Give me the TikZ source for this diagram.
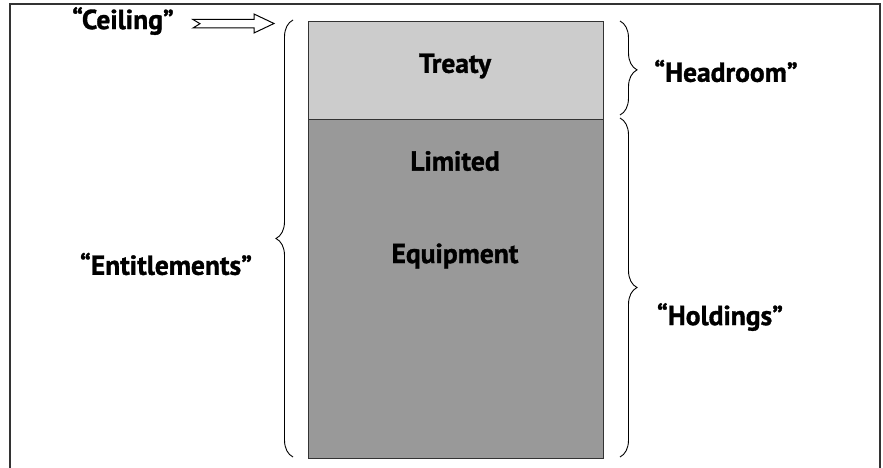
\documentclass[tikz,border=0pt]{standalone}
\usepackage{fontspec}
\setmainfont{PT Sans}[BoldFeatures={FakeBold=1.2}]
\usetikzlibrary{decorations.pathreplacing}
\definecolor{upperfill}{HTML}{CCCCCC}
\definecolor{lowerfill}{HTML}{999999}
\definecolor{edge}{HTML}{333333}
\begin{document}
\begin{tikzpicture}[x=1pt,y=-1pt,
  lbl/.style={font=\bfseries\fontsize{27.5}{32}\selectfont, inner sep=0pt},
  bracepath/.style={draw=black, line width=0.9pt, decorate,
    decoration={brace, amplitude=17pt}},
  block/.style={draw=edge, line width=0.9pt}]
\useasboundingbox (0,0) rectangle (883,468);
% outer frame, open at the bottom
\draw[edge, line width=1.3pt] (10,470) -- (10,4) -- (880,4) -- (880,470);

% stacked bar
\path[block, fill=lowerfill] (308,119) rectangle (603,458);
\path[block, fill=upperfill] (308,21) rectangle (603,119);

\node[lbl] (treaty) at (455,66) {Treaty};
\node[lbl] (limited) at (455,161) {Limited};
\node[lbl] (equip) at (455,256) {Equipment};

% braces
\coordinate (entTop) at (293,20);
\coordinate (entBot) at (293,457);
\draw[bracepath] (entBot) -- (entTop);
\coordinate (headTop) at (620,21);
\coordinate (headBot) at (620,115);
\draw[bracepath, decoration={aspect=0.52}] (headTop) -- (headBot);
\coordinate (holdTop) at (620,118);
\coordinate (holdBot) at (620,457);
\draw[bracepath] (holdTop) -- (holdBot);

\node[lbl] (ent) at (166,264) {“Entitlements”};
\node[lbl] (head) at (726,71) {“Headroom”};
\node[lbl] (hold) at (720,317) {“Holdings”};
\node[lbl] (ceil) at (123,21) {“Ceiling”};

% hollow block arrow pointing at the top of the bar
\draw[line width=1pt, fill=white, line join=miter]
  (193,19.5) -- (254,19.5) -- (254,14) -- (274,23.5) -- (254,33)
  -- (254,28) -- (193,28) -- (200,23.7) -- cycle;
\end{tikzpicture}
\end{document}
